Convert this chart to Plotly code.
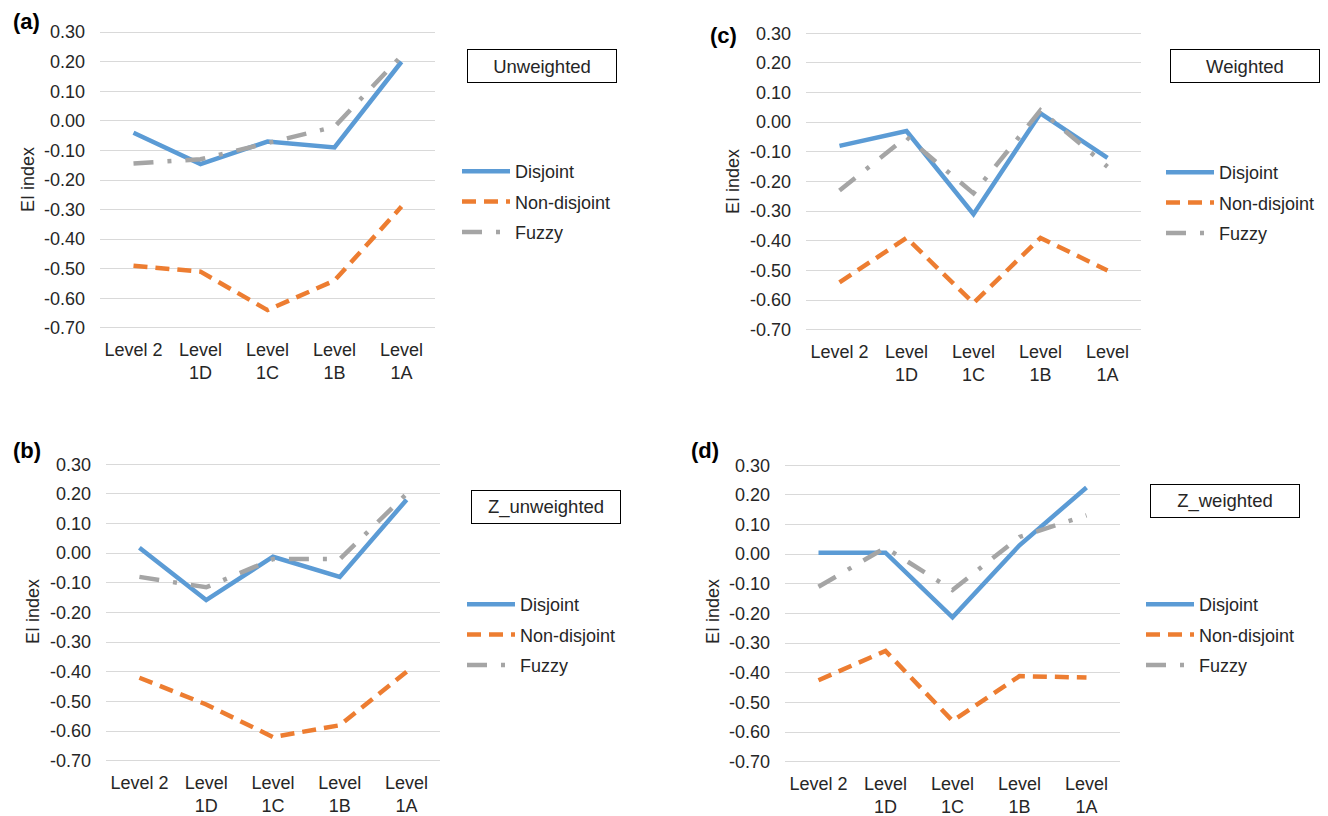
import plotly.graph_objects as go

W, H = 1328, 816

categories = ["Level 2", "Level 1D", "Level 1C", "Level 1B", "Level 1A"]
category_labels = ["Level 2", "Level<br>1D", "Level<br>1C", "Level<br>1B", "Level<br>1A"]
y_tick_vals = [0.30, 0.20, 0.10, 0.00, -0.10, -0.20, -0.30, -0.40, -0.50, -0.60, -0.70]
y_tick_text = ["0.30", "0.20", "0.10", "0.00", "-0.10", "-0.20", "-0.30",
               "-0.40", "-0.50", "-0.60", "-0.70"]

# (a) Unweighted
unweighted_disjoint = [-0.04, -0.146, -0.07, -0.09, 0.20]
unweighted_nondisjoint = [-0.49, -0.51, -0.64, -0.54, -0.29]
unweighted_fuzzy = [-0.144, -0.13, -0.075, -0.02, 0.22]

# (b) Z_unweighted
z_unweighted_disjoint = [0.018, -0.158, -0.012, -0.08, 0.18]
z_unweighted_nondisjoint = [-0.42, -0.51, -0.62, -0.58, -0.40]
z_unweighted_fuzzy = [-0.08, -0.115, -0.02, -0.02, 0.20]

# (c) Weighted
weighted_disjoint = [-0.08, -0.03, -0.31, 0.03, -0.12]
weighted_nondisjoint = [-0.54, -0.39, -0.61, -0.39, -0.50]
weighted_fuzzy = [-0.23, -0.05, -0.24, 0.04, -0.15]

# (d) Z_weighted
z_weighted_disjoint = [0.005, 0.005, -0.213, 0.03, 0.225]
z_weighted_nondisjoint = [-0.425, -0.326, -0.562, -0.411, -0.416]
z_weighted_fuzzy = [-0.11, 0.022, -0.121, 0.058, 0.131]

series_names = ["Disjoint", "Non-disjoint", "Fuzzy"]
series_colors = ["#5B9BD5", "#ED7D31", "#A5A5A5"]
series_dash = ["solid", "14px,8px", "20px,14px,4px,14px"]

FONT = "Liberation Sans, Arial, sans-serif"
TXT = "#262626"
FS = 18

# panel definitions: label, box title, data, plot box in pixels (left, right, top, bottom),
# legend anchor, title box centre, panel-label centre, axis-title centre
panels = [
    dict(tag="(a)", title="Unweighted",
         data=[unweighted_disjoint, unweighted_nondisjoint, unweighted_fuzzy],
         box=(100, 435, 32, 328), legend=(457, 153), title_c=(542, 66), tag_c=(26, 21),
         ytitle=(28, 179)),
    dict(tag="(b)", title="Z_unweighted",
         data=[z_unweighted_disjoint, z_unweighted_nondisjoint, z_unweighted_fuzzy],
         box=(106, 440, 464, 761), legend=(462, 586), title_c=(546, 507), tag_c=(27, 450),
         ytitle=(33, 612)),
    dict(tag="(c)", title="Weighted",
         data=[weighted_disjoint, weighted_nondisjoint, weighted_fuzzy],
         box=(806, 1141, 33, 330), legend=(1161, 154), title_c=(1245, 66), tag_c=(723, 36),
         ytitle=(733, 182)),
    dict(tag="(d)", title="Z_weighted",
         data=[z_weighted_disjoint, z_weighted_nondisjoint, z_weighted_fuzzy],
         box=(785, 1120, 465, 762), legend=(1141, 586), title_c=(1225, 501), tag_c=(705, 450),
         ytitle=(713, 612)),
]

fig = go.Figure()
layout = dict(
    width=W, height=H, margin=dict(l=0, r=0, t=0, b=0, autoexpand=False),
    paper_bgcolor="white", plot_bgcolor="white",
    font=dict(family=FONT, size=FS, color=TXT),
    showlegend=True, annotations=[],
)

pad = 0.004
for i, p in enumerate(panels, start=1):
    xa = "x" if i == 1 else f"x{i}"
    ya = "y" if i == 1 else f"y{i}"
    lg = "legend" if i == 1 else f"legend{i}"
    for j, (name, color, dash) in enumerate(zip(series_names, series_colors, series_dash)):
        fig.add_trace(go.Scatter(
            x=categories, y=p["data"][j], mode="lines", name=name,
            line=dict(color=color, width=4.5, dash=dash),
            xaxis=xa, yaxis=ya, legend=lg, legendgroup=f"{lg}-{name}",
            hoverinfo="skip",
        ))
    l, r, t, b = p["box"]
    layout["xaxis" if i == 1 else f"xaxis{i}"] = dict(
        domain=[l / W, r / W], anchor=ya, type="category",
        range=[-0.5, 4.5],
        tickvals=categories, ticktext=category_labels,
        showgrid=False, zeroline=False, showline=False, ticks="",
        ticklabelstandoff=8, tickfont=dict(size=FS, color=TXT),
    )
    layout["yaxis" if i == 1 else f"yaxis{i}"] = dict(
        domain=[1 - (b + 1) / H, 1 - (t - 1) / H], anchor=xa,
        range=[-0.70 - pad, 0.30 + pad],
        tickvals=y_tick_vals, ticktext=y_tick_text,
        showgrid=True, gridcolor="#D9D9D9", gridwidth=1,
        zeroline=False, showline=False, ticks="",
        ticklabelstandoff=14, tickfont=dict(size=FS, color=TXT),
    )
    lx, ly = p["legend"]
    layout[lg] = dict(
        x=lx / W, y=1 - ly / H, xanchor="left", yanchor="top",
        bgcolor="rgba(0,0,0,0)", borderwidth=0, tracegroupgap=4,
        font=dict(size=FS, color=TXT), itemwidth=48,
    )
    cx, cy = p["title_c"]
    layout["annotations"].append(dict(
        x=cx / W, y=1 - cy / H, xref="paper", yref="paper", text=p["title"],
        showarrow=False, xanchor="center", yanchor="middle",
        width=146, height=30, bordercolor="#000000", borderwidth=1,
        font=dict(size=18.5, color=TXT),
    ))
    tx, ty = p["tag_c"]
    layout["annotations"].append(dict(
        x=tx / W, y=1 - ty / H, xref="paper", yref="paper", text=f"<b>{p['tag']}</b>",
        showarrow=False, xanchor="center", yanchor="middle",
        font=dict(size=22, color="#000000"),
    ))
    yx, yy = p["ytitle"]
    layout["annotations"].append(dict(
        x=yx / W, y=1 - yy / H, xref="paper", yref="paper", text="EI index",
        showarrow=False, xanchor="center", yanchor="middle", textangle=-90,
        font=dict(size=FS, color=TXT),
    ))

fig.update_layout(**layout)
fig.write_html("out.html", include_plotlyjs=True, config={"displayModeBar": False})
